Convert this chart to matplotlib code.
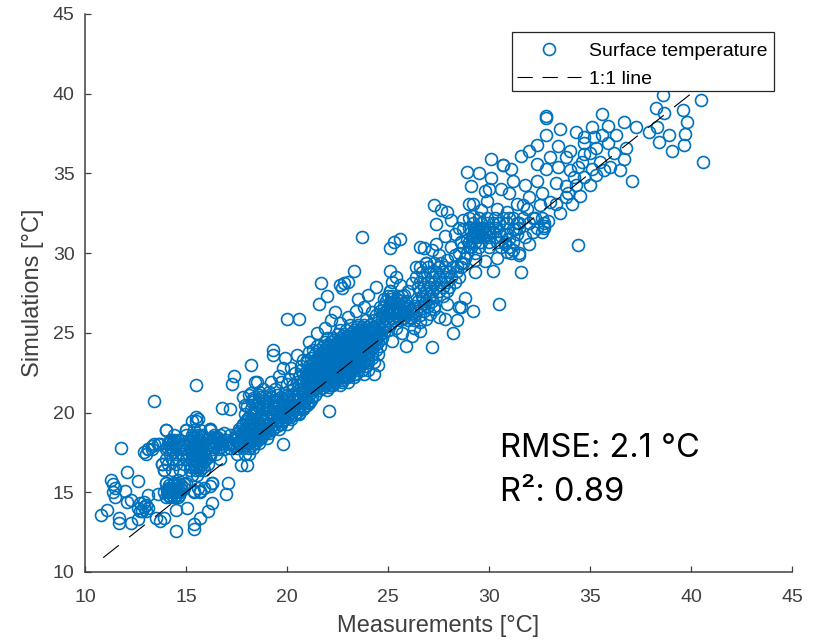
import matplotlib

matplotlib.use('Agg')
from matplotlib import pyplot as plt
from matplotlib.patches import Rectangle
from matplotlib.ticker import MultipleLocator

# dense parts, read row by row: simulated value -> measured values on that row
core_sim = [21.4, 21.7, 21.9, 22.2, 22.4, 22.7, 22.9, 23.2, 23.4, 23.7, 23.9, 24.2, 24.4, 24.7, 24.9, 25.2, 25.5]
core_meas = [
    [20.6, 20.9, 21.3, 21.6, 22.0],
    [20.3, 20.7, 21.0, 21.3, 21.5, 21.8, 22.1, 22.3, 22.6],
    [20.5, 20.8, 21.1, 21.4, 21.6, 21.9, 22.2, 22.4, 22.7, 23.0],
    [20.6, 20.9, 21.2, 21.4, 21.7, 22.0, 22.2, 22.5, 22.8, 23.0, 23.3],
    [20.8, 21.0, 21.3, 21.5, 21.8, 22.1, 22.3, 22.6, 22.9, 23.1, 23.4, 23.8],
    [20.7, 21.0, 21.2, 21.5, 21.7, 22.0, 22.2, 22.5, 22.7, 23.0, 23.2, 23.5, 23.7, 24.0],
    [21.1, 21.4, 21.6, 21.9, 22.1, 22.4, 22.6, 22.9, 23.1, 23.4, 23.6, 23.9],
    [21.0, 21.3, 21.5, 21.8, 22.0, 22.3, 22.5, 22.8, 23.0, 23.3, 23.5, 23.8, 24.0, 24.3],
    [21.2, 21.5, 21.7, 22.0, 22.2, 22.5, 22.7, 23.0, 23.2, 23.5, 23.7, 24.0, 24.2],
    [21.4, 21.7, 21.9, 22.2, 22.4, 22.7, 22.9, 23.2, 23.4, 23.7, 23.9, 24.2, 24.5],
    [21.3, 21.6, 21.9, 22.1, 22.4, 22.6, 22.9, 23.1, 23.4, 23.6, 23.9, 24.1, 24.4],
    [21.5, 21.8, 22.1, 22.3, 22.6, 22.8, 23.1, 23.3, 23.6, 23.8, 24.1, 24.3, 24.6],
    [21.9, 22.2, 22.5, 22.7, 23.0, 23.2, 23.5, 23.7, 24.0, 24.2, 24.5],
    [22.0, 22.3, 22.6, 22.9, 23.2, 23.4, 23.7, 23.9, 24.2, 24.4, 24.7],
    [22.5, 22.8, 23.1, 23.4, 23.6, 23.9, 24.1, 24.4, 24.6],
    [22.6, 22.9, 23.3, 23.6, 23.8, 24.1, 24.4, 24.7, 25.0],
    [23.1, 23.5, 23.8, 24.1, 24.5, 24.8, 25.1],
]
core2_sim = [21.55, 21.8, 22.05, 22.3, 22.55, 22.8, 23.05, 23.3, 23.55, 23.8, 24.05, 24.3, 24.55, 24.8, 25.05, 25.35]
core2_meas = [
    [20.8, 21.15, 21.45, 21.75],
    [21.05, 21.35, 21.65, 21.95, 22.25],
    [21.0, 21.25, 21.55, 21.85, 22.1, 22.35, 22.65],
    [21.1, 21.35, 21.6, 21.9, 22.15, 22.4, 22.7, 22.95],
    [21.2, 21.45, 21.65, 21.95, 22.2, 22.45, 22.75, 23.05],
    [21.3, 21.55, 21.85, 22.1, 22.35, 22.6, 22.85, 23.1, 23.35],
    [21.25, 21.5, 21.8, 22.05, 22.3, 22.55, 22.8, 23.05, 23.3, 23.55],
    [21.65, 21.9, 22.15, 22.4, 22.65, 22.9, 23.15, 23.4, 23.65, 23.9],
    [21.6, 21.85, 22.1, 22.35, 22.6, 22.85, 23.1, 23.3, 23.55, 23.8],
    [21.75, 22.05, 22.3, 22.55, 22.8, 23.05, 23.25, 23.5, 23.75, 24.0],
    [22.0, 22.25, 22.5, 22.75, 23.0, 23.25, 23.45, 23.7, 23.95, 24.2],
    [22.05, 22.4, 22.7, 22.95, 23.15, 23.4, 23.65, 23.9, 24.15, 24.4],
    [22.35, 22.65, 22.85, 23.1, 23.35, 23.6, 23.85, 24.1, 24.35],
    [22.75, 23.05, 23.3, 23.55, 23.8, 24.05, 24.3, 24.55],
    [23.25, 23.5, 23.75, 24.0, 24.25, 24.5, 24.8],
    [23.45, 23.7, 23.95, 24.25, 24.55, 24.85],
]

band_sim = [17.4, 17.8, 18.1, 18.4, 18.7, 19.0, 19.3, 19.6, 19.9, 20.2, 20.5, 20.8, 21.1]
band_meas = [
    [17.5, 17.9, 18.1],
    [17.2, 17.5, 17.8, 18.1, 18.3],
    [16.8, 17.3, 17.6, 17.9, 18.1, 18.4, 18.6],
    [16.4, 17.4, 17.7, 18.0, 18.2, 18.5, 18.7, 19.0],
    [16.9, 17.5, 17.8, 18.1, 18.3, 18.6, 18.9, 19.1],
    [16.2, 17.6, 17.9, 18.2, 18.4, 18.7, 19.0, 19.3, 19.6],
    [17.8, 18.1, 18.3, 18.6, 18.9, 19.1, 19.4, 19.7, 20.0],
    [18.0, 18.2, 18.8, 19.0, 19.3, 19.6, 19.9, 20.2],
    [17.9, 18.3, 18.7, 19.2, 19.5, 19.8, 20.1, 20.4, 20.6],
    [18.2, 18.8, 19.4, 19.7, 20.0, 20.3, 20.5, 20.8],
    [17.9, 18.5, 19.0, 19.6, 19.9, 20.2, 20.4, 20.7, 21.0],
    [18.3, 18.9, 19.3, 19.8, 20.1, 20.3, 20.6, 20.9, 21.2],
    [18.1, 18.6, 19.1, 19.5, 20.0, 20.3, 20.5, 20.8, 21.1, 21.4],
]
band2_sim = [17.95, 18.25, 18.55, 18.85, 19.15, 19.45, 19.75, 20.05, 20.35, 20.65, 20.95]
band2_meas = [
    [17.35, 17.65, 17.95, 18.25],
    [17.45, 17.75, 18.0, 18.3, 18.55],
    [17.55, 17.85, 18.15, 18.45, 18.75],
    [17.65, 17.95, 18.2, 18.5, 18.75, 19.05],
    [17.75, 18.05, 18.35, 18.65, 18.95, 19.2, 19.5],
    [17.95, 18.25, 18.55, 18.85, 19.15, 19.45, 19.75],
    [18.1, 18.65, 19.25, 19.55, 19.85, 20.15],
    [18.45, 19.1, 19.65, 19.95, 20.25, 20.5],
    [18.6, 19.3, 19.75, 20.05, 20.3, 20.6, 20.85],
    [18.25, 18.95, 19.45, 19.85, 20.15, 20.45, 20.75, 21.05],
    [18.7, 19.2, 19.7, 20.05, 20.4, 20.65, 20.95, 21.25],
]

upper_sim = [25.8, 26.1, 26.4, 26.7, 27.0, 27.3, 27.6, 27.9, 28.2, 28.5, 28.8, 29.1, 29.4]
upper_meas = [
    [23.9, 24.3, 24.7, 25.0, 25.3, 25.6, 26.0, 26.3],
    [24.4, 24.8, 25.1, 25.4, 25.7, 25.9, 26.3, 26.6],
    [24.6, 24.9, 25.2, 25.5, 25.8, 26.1, 26.4, 26.8],
    [24.8, 25.1, 25.4, 25.7, 26.0, 26.3, 26.6, 27.0, 27.3],
    [24.9, 25.3, 25.6, 25.9, 26.5, 26.9, 27.2],
    [25.0, 25.2, 25.7, 26.7, 27.1, 27.4, 27.7],
    [25.1, 26.6, 26.9, 27.2, 27.5, 27.9],
    [26.5, 26.8, 27.1, 27.4, 27.7, 28.0],
    [26.6, 27.0, 27.3, 27.6, 27.9, 28.3],
    [26.4, 26.8, 27.2, 27.5, 27.8, 28.1, 28.5],
    [26.7, 27.1, 27.4, 27.7, 28.0],
    [26.4, 27.0, 27.5, 27.8, 28.2, 28.6],
    [26.9, 27.3, 27.6, 28.7],
]
upper2_sim = [25.95, 26.25, 26.55, 26.85, 27.15]
upper2_meas = [
    [24.55, 24.9, 25.2, 25.5, 25.8, 26.15],
    [24.75, 25.05, 25.3, 25.6, 25.9, 26.2],
    [25.0, 25.3, 25.6, 25.95, 26.25],
    [25.1, 25.45, 25.8, 26.85],
    [25.15, 25.45, 26.75, 27.05],
]

high_sim = [30.0, 30.4, 30.7, 31.0, 31.3, 31.6, 31.9, 32.2]
high_meas = [
    [28.5, 28.9, 29.3, 31.1, 31.5],
    [28.7, 29.1, 29.5, 30.0, 30.6, 31.0],
    [28.6, 29.0, 29.3, 29.6, 30.0, 30.4, 30.8, 31.2],
    [29.2, 29.4, 29.7, 30.0, 30.3],
    [29.1, 29.3, 29.5, 29.8, 30.0, 30.2, 32.2, 32.6],
    [29.0, 29.3, 29.5, 29.7, 30.0, 30.3, 31.5, 32.4, 32.7],
    [29.2, 29.6, 29.9, 30.2, 30.5, 30.9, 31.4, 32.0, 32.7],
    [29.0, 29.5, 29.9, 30.3, 30.7, 31.2, 31.7, 32.2, 32.6],
]
high2_sim = [31.15, 31.45]
high2_meas = [
    [29.2, 29.4, 29.6, 29.85],
    [29.25, 29.45, 29.65],
]

low_sim = [14.7, 15.0, 15.3, 15.6, 16.4, 16.8, 17.1, 17.4, 17.7, 18.0, 18.3, 18.6, 18.9]
low_meas = [
    [14.0, 14.2, 14.4, 14.6],
    [13.9, 14.1, 14.3, 14.5, 14.7, 15.4, 15.7],
    [14.1, 14.3, 14.5, 14.7, 14.9, 15.6, 15.9],
    [14.0, 14.4, 14.6, 15.0, 16.3],
    [13.9, 14.3, 14.7, 15.2, 15.5, 15.7, 15.9],
    [13.8, 14.1, 14.5, 14.9, 15.2, 15.4, 15.6, 15.8, 16.1],
    [14.0, 14.3, 14.6, 15.0, 15.3, 15.5, 15.7, 16.0, 16.7],
    [13.0, 14.2, 14.5, 14.8, 15.3, 15.5, 15.7, 15.9, 16.2, 16.5],
    [13.1, 13.3, 14.0, 14.3, 14.6, 15.0, 15.3, 15.5, 15.6, 16.0, 16.3, 16.6, 16.9],
    [13.4, 13.7, 14.1, 14.3, 14.5, 14.8, 15.2, 15.4, 15.6, 15.8, 16.2, 16.5, 16.7, 17.1],
    [14.2, 14.4, 14.6, 15.2, 15.5, 15.7, 16.3, 16.6, 16.8, 17.0],
    [14.4, 15.0, 15.3, 15.6, 15.8, 16.4, 16.7, 17.2],
    [14.0, 15.0, 15.4, 15.7, 16.2],
]
low2_sim = [14.85, 15.15, 15.45, 16.1, 16.6, 16.95, 17.25, 17.55, 17.85, 18.15, 18.45]
low2_meas = [
    [14.1, 14.3, 14.5, 14.65],
    [14.05, 14.2, 14.4, 14.6, 14.8],
    [14.15, 14.35, 14.55, 14.75],
    [15.3, 15.55],
    [15.25, 15.45, 15.65, 15.85],
    [15.3, 15.5, 15.7, 15.9],
    [15.35, 15.55, 15.75, 16.2],
    [14.35, 15.25, 15.45, 15.65, 15.85],
    [14.05, 14.25, 14.45, 14.65, 15.4, 15.6, 15.8, 16.4, 16.75],
    [14.15, 14.35, 14.55, 15.25, 15.45, 15.65, 16.25, 16.45, 16.65],
    [15.35, 15.55, 15.75, 16.35, 16.55],
]

# sparse points, read one by one (measured, simulated)
low_points = [
    (10.8, 13.6), (11.1, 13.9), (11.3, 15.8), (11.4, 15.5), (11.4, 15.0), (11.5, 14.7), (11.5, 15.3),
    (11.7, 13.4), (11.7, 13.1), (12.1, 16.3), (12.6, 15.7), (12.0, 15.1), (12.1, 14.4), (12.3, 14.5),
    (12.3, 13.1), (12.6, 13.3), (13.1, 14.8), (12.6, 14.0), (12.7, 14.3), (12.8, 13.8), (12.9, 14.1),
    (13.0, 13.8), (13.1, 14.0), (12.7, 13.8), (12.9, 14.4), (13.0, 14.2), (13.6, 14.9), (13.5, 13.4),
    (13.9, 13.4), (13.7, 13.2), (14.5, 13.9), (14.5, 12.6), (15.05, 14.0), (15.4, 13.0), (15.4, 12.7),
    (15.7, 13.4), (16.1, 13.8), (16.3, 14.3), (17.0, 14.9), (17.1, 15.6), (16.3, 15.6), (16.2, 15.4),
    (15.7, 15.1), (15.4, 15.1), (14.0, 15.6), (14.6, 15.8), (14.4, 15.6), (14.9, 15.5),
    (14.0, 18.9), (15.0, 18.9), (15.3, 19.5), (15.6, 19.6), (15.5, 19.5), (16.2, 18.9), (12.9, 17.5),
    (13.1, 17.7), (13.3, 17.9), (13.6, 18.0), (13.8, 16.8), (13.9, 16.4), (17.7, 16.7), (18.0, 16.7),
    (13.4, 20.7), (15.5, 21.7), (11.8, 17.8), (18.2, 23.0), (17.4, 22.3), (17.3, 21.8), (16.8, 20.3),
    (17.2, 20.2), (18.4, 21.9), (16.2, 19.0), (15.5, 19.7),
]
mid_points = [
    (23.7, 31.0), (25.6, 30.9), (25.3, 30.7), (25.1, 30.3), (23.3, 28.9), (21.7, 28.1), (22.0, 27.3),
    (21.6, 26.8), (20.0, 25.9), (20.6, 25.9), (22.8, 28.1), (22.6, 28.0), (23.0, 28.2), (22.7, 27.8),
    (19.3, 23.9), (19.3, 23.6), (20.5, 23.6), (22.1, 20.1), (25.1, 28.9), (26.6, 30.4), (25.9, 24.2),
    (27.2, 24.1), (28.2, 25.0), (27.8, 25.9), (28.4, 25.8), (28.6, 26.6), (29.2, 26.4), (20.6, 20.0),
    (18.5, 21.9), (21.1, 24.4), (21.5, 25.0), (21.9, 25.3), (22.4, 26.3), (23.5, 27.1), (24.0, 27.4),
    (24.8, 27.1), (26.2, 28.1), (26.6, 29.1), (27.4, 30.6), (26.9, 29.4), (19.8, 18.0), (19.2, 21.9),
    (19.8, 22.8), (19.9, 23.4), (17.8, 21.0), (22.1, 21.6), (23.3, 22.4), (24.3, 22.4), (24.5, 23.0),
    (23.9, 22.9), (21.1, 20.6), (20.0, 19.7), (19.7, 19.3), (23.0, 26.0), (23.4, 26.4), (23.8, 26.6),
    (24.2, 26.3), (24.6, 26.6), (22.6, 25.6), (22.2, 25.8), (25.2, 26.9), (25.5, 27.3), (25.1, 27.6),
    (25.4, 25.3), (25.7, 25.0), (26.3, 25.3), (26.6, 25.7), (27.3, 26.5), (27.9, 26.8), (28.8, 27.2),
    (28.5, 26.6), (26.8, 30.3), (27.3, 33.0), (27.6, 32.7), (27.9, 32.6), (28.1, 32.1), (27.4, 31.8),
    (27.8, 31.1), (29.3, 28.8), (30.2, 28.9), (30.5, 26.8), (31.5, 29.9), (31.6, 28.8), (30.9, 30.1),
    # upper edge of the band between 18 and 21
    (18.6, 20.6), (18.9, 21.0), (19.1, 21.3), (19.4, 21.5), (19.7, 21.9), (20.1, 22.1), (20.4, 22.5),
    (20.7, 22.9), (21.0, 23.3), (21.1, 23.8), (20.8, 23.3), (20.2, 22.8), (19.6, 22.3), (19.0, 20.5),
    (18.4, 20.3), (18.0, 20.4), (18.6, 21.3), (18.8, 21.5), (20.0, 21.8), (19.9, 21.2), (20.3, 21.5),
    (19.5, 20.8), (18.2, 21.2), (18.3, 20.9),
    # wider spread above and below the line from 25 to 29
    (25.2, 28.2), (25.6, 28.0), (26.0, 27.6), (25.4, 28.5), (25.8, 27.4), (28.4, 28.9), (28.6, 29.4),
    (28.8, 29.7), (28.3, 29.9), (27.9, 29.6), (27.5, 29.9), (27.2, 30.2), (28.1, 30.4), (28.6, 30.7),
    (25.2, 24.5), (26.2, 24.8), (26.6, 25.1), (26.9, 25.9), (27.1, 26.2), (27.5, 26.0), (24.4, 27.9),
]
high_points = [
    (28.9, 35.1), (29.5, 35.0), (30.1, 34.7), (29.1, 34.2), (30.0, 34.0), (30.7, 35.5), (29.0, 33.1),
    (29.2, 33.1), (29.9, 33.3), (29.2, 32.3), (29.6, 32.7), (30.4, 32.8), (30.9, 32.6), (31.4, 33.1),
    (31.8, 34.3), (32.4, 34.5), (32.6, 33.8), (32.0, 33.5), (33.3, 34.4), (33.8, 34.2), (34.3, 34.3),
    (33.8, 33.5), (33.3, 33.1), (32.9, 32.0), (32.7, 31.7), (31.9, 32.8), (31.7, 33.0), (32.3, 32.2),
    (31.5, 31.9), (30.1, 35.9), (30.7, 35.5), (31.1, 35.3), (31.6, 36.1), (32.4, 35.6), (32.8, 35.3),
    (33.4, 35.4), (33.8, 36.0), (32.4, 36.8), (33.4, 36.7), (32.8, 37.4), (33.5, 37.8), (32.8, 38.6),
    (32.8, 38.5), (34.7, 37.3), (34.7, 36.9), (35.2, 37.3), (35.1, 37.9), (35.6, 38.7), (35.9, 38.0),
    (35.9, 36.9), (35.3, 36.6), (34.7, 36.2), (34.6, 35.7), (35.5, 35.7), (35.7, 35.2), (34.7, 34.8),
    (34.2, 34.8), (36.7, 38.2), (37.3, 37.9), (37.9, 37.6), (38.3, 37.9), (38.9, 37.4), (38.4, 37.0),
    (39.05, 36.4), (39.65, 36.8), (39.7, 37.5), (39.8, 38.2), (36.8, 36.6), (36.7, 35.9), (37.1, 34.5),
    (40.6, 35.7), (38.25, 39.1), (38.66, 38.8), (39.6, 39.0), (38.6, 39.9), (40.5, 39.6), (33.9, 33.8),
    (34.4, 30.5), (34.0, 36.4), (35.0, 36.3),
    # spread between 28 and 37
    (28.3, 31.2), (28.5, 31.6), (28.7, 32.1), (30.5, 31.9), (31.0, 32.2), (31.2, 31.5), (31.8, 31.0),
    (32.0, 30.6), (30.8, 30.6), (31.2, 30.2), (30.4, 29.7), (29.8, 29.5), (29.3, 29.6), (29.0, 30.4),
    (28.4, 29.2), (29.8, 33.9), (33.0, 33.2), (33.5, 32.5), (34.1, 33.1), (34.5, 33.6), (35.0, 34.3),
    (35.3, 34.9), (36.0, 35.4), (36.2, 36.3), (34.4, 35.4), (34.0, 35.2), (33.0, 36.0), (32.0, 36.4),
    (31.2, 34.5), (31.0, 33.8), (30.6, 34.0), (32.5, 33.0), (34.3, 37.6), (36.3, 37.4), (35.6, 37.4),
    (35.1, 35.3), (36.5, 35.2),
    (28.9, 30.8), (30.6, 31.1), (31.0, 30.9), (31.4, 31.2), (28.7, 31.5), (30.5, 31.4), (30.9, 31.2),
    (31.3, 31.5),
]

one_to_one = [10.9, 40.0]
rmse_text = 'RMSE: 2.1 °C'
r2_text = 'R²: 0.89'

meas = []
sim = []
for rows_sim, rows_meas in [(low_sim, low_meas), (low2_sim, low2_meas), (band_sim, band_meas),
                            (band2_sim, band2_meas), (core_sim, core_meas), (core2_sim, core2_meas),
                            (upper_sim, upper_meas), (upper2_sim, upper2_meas),
                            (high_sim, high_meas), (high2_sim, high2_meas)]:
    for val, row in zip(rows_sim, rows_meas):
        meas += row
        sim += [val] * len(row)
for pts in [low_points, mid_points, high_points]:
    meas += [p[0] for p in pts]
    sim += [p[1] for p in pts]

plt.rcParams['font.family'] = ['Liberation Sans', 'DejaVu Sans']
plt.rcParams['lines.scale_dashes'] = False
gray = '#404040'

fig = plt.figure(figsize = (8.25, 6.43), dpi = 100)
ax = fig.add_axes([85 / 825, 1 - 572 / 643, (792 - 85) / 825, (572 - 14) / 643])
ax.plot(meas, sim, 'o', ms = 8.6, mfc = 'none', mec = '#0072BD', mew = 1.2, label = 'Surface temperature')
ax.plot(one_to_one, one_to_one, color = 'black', lw = 0.8, dashes = (14.4, 9.4), label = '1:1 line')
ax.set_xlim(10, 45)
ax.set_ylim(10, 45)
ax.xaxis.set_major_locator(MultipleLocator(5))
ax.yaxis.set_major_locator(MultipleLocator(5))
ax.spines['top'].set_visible(False)
ax.spines['right'].set_visible(False)
for side in ['left', 'bottom']:
    ax.spines[side].set_color(gray)
    ax.spines[side].set_linewidth(1.1)
ax.tick_params(direction = 'in', length = 4, width = 0.9, color = gray, labelcolor = gray, labelsize = 14)
ax.tick_params(axis = 'x', pad = 12.5)
ax.tick_params(axis = 'y', pad = 7.5)
ax.set_xlabel('Measurements [°C]', color = gray, fontsize = 17, labelpad = 6.5)
ax.set_ylabel('Simulations [°C]', color = gray, fontsize = 17, labelpad = 6.5)

# frame drawn by hand, the legend's own padding can't differ between width and height
ax.add_patch(Rectangle((512 / 825, 1 - 91 / 643), 262 / 825, 59 / 643, transform = fig.transFigure,
                       facecolor = 'white', edgecolor = '#262626', lw = 0.9, zorder = 4.5, clip_on = False))
leg = ax.legend(loc = 'upper left', bbox_to_anchor = ((506 - 85) / 707, 1 - (32 - 14) / 558), fontsize = 14,
                frameon = False, borderaxespad = 0, borderpad = 0.55,
                labelspacing = 0.52, handlelength = 3.3, handletextpad = 0.4)
leg.get_lines()[1].set_dashes((11, 7))
leg.set_zorder(5)

fig.text(500 / 825, 1 - 457 / 643, rmse_text, family = 'Inter', fontsize = 23.5, color = 'black')
fig.text(500 / 825, 1 - 501 / 643, r2_text, family = 'Inter', fontsize = 23.5, color = 'black')

fig.savefig('out.png', dpi = 100)
